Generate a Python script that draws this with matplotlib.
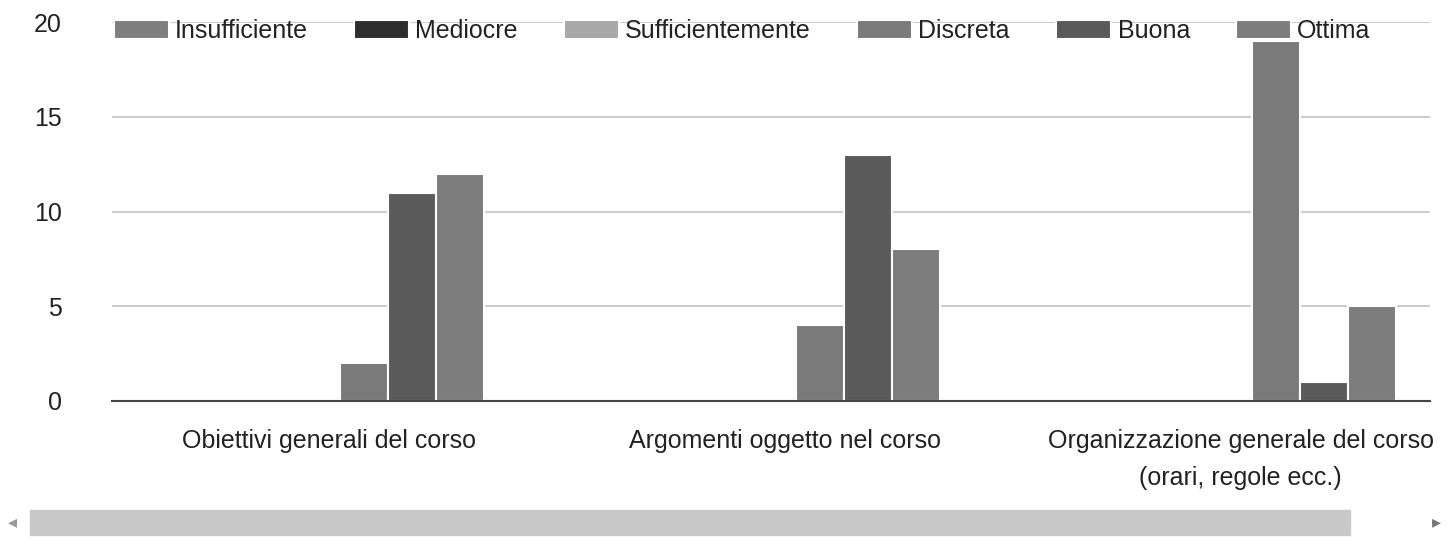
import numpy as np
import matplotlib.pyplot as plt
from matplotlib.patches import Rectangle

# Dati
categorie = ['Obiettivi generali del corso',
             'Argomenti oggetto nel corso',
             'Organizzazione generale del corso\n(orari, regole ecc.)']
serie = ['Insufficiente', 'Mediocre', 'Sufficientemente', 'Discreta', 'Buona', 'Ottima']
insufficiente = [0, 0, 0]
mediocre = [0, 0, 0]
sufficientemente = [0, 0, 0]
discreta = [2, 4, 19]
buona = [11, 13, 1]
ottima = [12, 8, 5]
valori = [insufficiente, mediocre, sufficientemente, discreta, buona, ottima]
colori = ['#7e7e7e', '#2e2e2e', '#a8a8a8', '#7a7a7a', '#5a5a5a', '#7d7d7d']

plt.rcParams['font.family'] = ['Liberation Sans', 'DejaVu Sans']

W, H = 1448, 544
fig = plt.figure(figsize=(W / 100, H / 100), dpi=100)
ax = fig.add_axes([112 / W, (H - 401) / H, (1430 - 112) / W, (401 - 22) / H])

x = np.arange(len(categorie))
w = 0.105
for j, (nome, val, col) in enumerate(zip(serie, valori, colori)):
    ax.bar(x + (j - 2.5) * w, val, width=w, color=col, edgecolor='white',
           linewidth=1.5, label=nome, zorder=3)

ax.set_xlim(-0.5, 2.39)
ax.set_ylim(0, 20)
ax.set_yticks([0, 5, 10, 15, 20])
# etichette leggermente spostate a sinistra come nell'originale
ax.set_xticks(x - 0.025)
ax.set_xticklabels(categorie, linespacing=1.7)
ax.tick_params(axis='both', length=0, labelsize=18, colors='#222222')
ax.tick_params(axis='y', pad=36)
ax.tick_params(axis='x', pad=20)
ax.grid(axis='y', color='#cccccc', linewidth=1.5, zorder=0)
for s in ['top', 'right', 'left']:
    ax.spines[s].set_visible(False)
ax.spines['bottom'].set_color('#444444')
ax.spines['bottom'].set_linewidth(1.5)
ax.spines['bottom'].set_zorder(4)

fig.legend(loc='center left', bbox_to_anchor=(101 / W, 1 - 31 / H), ncol=6,
           frameon=False, fontsize=18, handlelength=2.2, handleheight=0.8,
           handletextpad=0.25, columnspacing=1.85, borderpad=0, labelcolor='#222222')

# barra di scorrimento
fig.patches.append(Rectangle((30 / W, 9 / H), 1320 / W, 25 / H,
                             transform=fig.transFigure, color='#c8c8c8'))
fig.text(12 / W, 22 / H, '\u25c2', ha='center', va='center', fontsize=13,
         color='#999999', family='DejaVu Sans')
fig.text(1436 / W, 22 / H, '\u25b8', ha='center', va='center', fontsize=13,
         color='#777777', family='DejaVu Sans')

plt.savefig('out.png', dpi=100)
plt.close()
